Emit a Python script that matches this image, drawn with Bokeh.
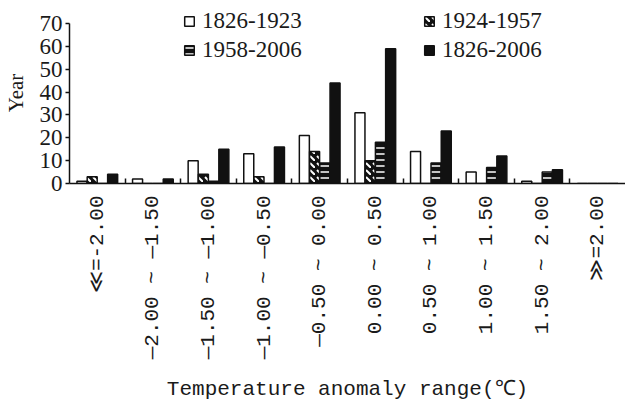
import math
from bokeh.plotting import figure
from bokeh.models import Range1d, FixedTicker, Legend, LegendItem, ColumnDataSource
from bokeh.transform import dodge
from bokeh.embed import file_html
from bokeh.resources import INLINE

categories = ["≪=-2.00", "—2.00 ~ —1.50", "—1.50 ~ —1.00", "—1.00 ~ —0.50",
              "—0.50 ~ 0.00", "0.00 ~ 0.50", "0.50 ~ 1.00", "1.00 ~ 1.50",
              "1.50 ~ 2.00", "≫=2.00"]
series_names = ["1826-1923", "1924-1957", "1958-2006", "1826-2006"]
s1826_1923 = [1, 2, 10, 13, 21, 31, 14, 5, 1, 0]
s1924_1957 = [3, 0, 4, 3, 14, 10, 0, 0, 0, 0]
s1958_2006 = [0, 0, 1, 0, 9, 18, 9, 7, 5, 0]
s1826_2006 = [4, 2, 15, 16, 44, 59, 23, 12, 6, 0]
y_ticks = [0, 10, 20, 30, 40, 50, 60, 70]

pos = list(range(1, len(categories) + 1))
src = ColumnDataSource(dict(x=pos, a=s1826_1923, b=s1924_1957, c=s1958_2006, d=s1826_2006))

TXT = "#1a1a1a"
p = figure(width=625, height=404, output_backend="svg", toolbar_location=None,
           x_range=Range1d(0.5, len(categories) + 0.5), y_range=Range1d(0, 79.2),
           min_border_left=60, min_border_right=0, min_border_top=2, min_border_bottom=221)
p.outline_line_color = None
p.xgrid.visible = False
p.ygrid.visible = False
p.background_fill_color = "white"

w = 0.18
step = 0.184
r1 = p.vbar(x=dodge("x", -1.5 * step, range=p.x_range), top="a", width=w, source=src,
            fill_color="white", line_color="#111111", line_width=1.5)
r2 = p.vbar(x=dodge("x", -0.5 * step, range=p.x_range), top="b", width=w, source=src,
            fill_color="#111111", line_color="#111111", line_width=1.5,
            hatch_pattern="left_diagonal_dash", hatch_color="white", hatch_scale=7, hatch_weight=2)
r3 = p.vbar(x=dodge("x", 0.5 * step, range=p.x_range), top="c", width=w, source=src,
            fill_color="#111111", line_color="#111111", line_width=1.5,
            hatch_pattern="horizontal_line", hatch_color="white", hatch_scale=6, hatch_weight=1.5)
r4 = p.vbar(x=dodge("x", 1.5 * step, range=p.x_range), top="d", width=w, source=src,
            fill_color="#111111", line_color="#111111", line_width=1.5)

# x axis
xa = p.xaxis[0]
xa.ticker = FixedTicker(ticks=pos, minor_ticks=[i + 0.5 for i in pos[:-1]])
xa.major_label_overrides = {i: c for i, c in zip(pos, categories)}
xa.major_label_orientation = math.pi / 2
xa.major_tick_line_color = None
xa.major_tick_in = 0
xa.major_tick_out = 0
xa.minor_tick_in = 5
xa.minor_tick_out = 0
xa.minor_tick_line_color = "#111111"
xa.minor_tick_line_width = 1.5
xa.axis_line_color = "#111111"
xa.axis_line_width = 1.5
xa.major_label_text_font = "Liberation Mono"
xa.major_label_text_font_size = "21px"
xa.major_label_text_color = TXT
xa.major_label_standoff = 12
xa.axis_label = "Temperature anomaly range(℃)"
xa.axis_label_text_font = "Liberation Mono"
xa.axis_label_text_font_size = "21px"
xa.axis_label_text_font_style = "normal"
xa.axis_label_text_color = TXT
xa.axis_label_standoff = 16

# y axis
ya = p.yaxis[0]
ya.ticker = FixedTicker(ticks=y_ticks, minor_ticks=[])
ya.bounds = (0, 70)
ya.major_tick_in = 0
ya.major_tick_out = 4
ya.major_tick_line_color = "#111111"
ya.major_tick_line_width = 1.5
ya.axis_line_color = "#111111"
ya.axis_line_width = 1.5
ya.major_label_text_font = "Liberation Serif"
ya.major_label_text_font_size = "23px"
ya.major_label_text_color = TXT
ya.major_label_standoff = 3
ya.axis_label = "Year"
ya.axis_label_text_font = "Liberation Serif"
ya.axis_label_text_font_size = "21px"
ya.axis_label_text_font_style = "normal"
ya.axis_label_text_color = TXT
ya.axis_label_standoff = 9


def add_entry(label, renderer, loc):
    lg = Legend(items=[LegendItem(label=label, renderers=[renderer])], location=loc,
                orientation="vertical", border_line_color=None, background_fill_alpha=0,
                padding=0, margin=0, spacing=0,
                glyph_width=12, glyph_height=12, label_standoff=7,
                label_text_font="Liberation Serif", label_text_font_size="23px",
                label_text_color=TXT, label_height=20)
    p.add_layout(lg, "center")


add_entry(series_names[0], r1, (114, 149))
add_entry(series_names[2], r3, (114, 120))
add_entry(series_names[1], r2, (354, 149))
add_entry(series_names[3], r4, (354, 120))

open("out.html", "w").write(file_html(p, INLINE))
